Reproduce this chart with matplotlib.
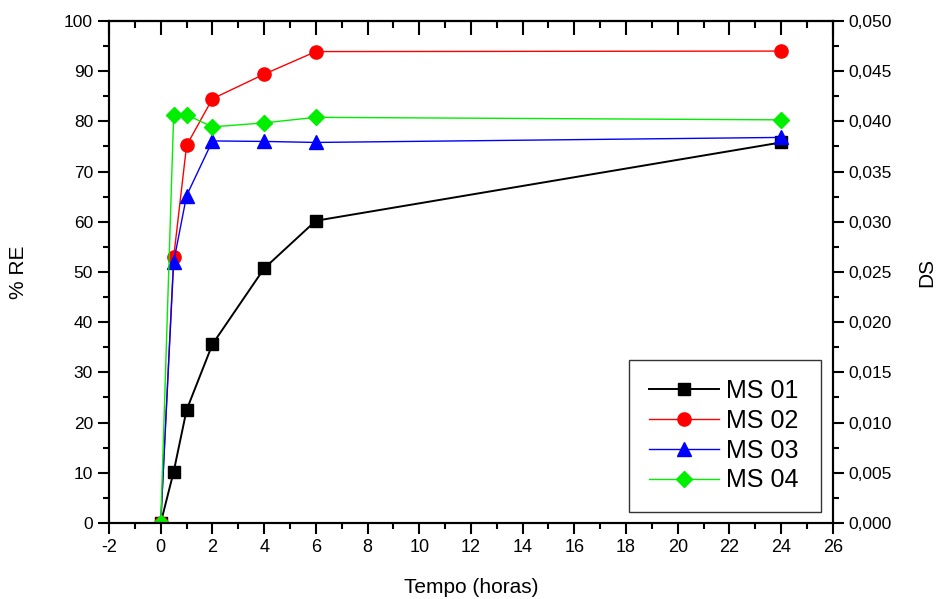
import matplotlib
matplotlib.use("Agg")
import matplotlib.pyplot as plt
from matplotlib.ticker import MultipleLocator, FuncFormatter

plt.rcParams['font.family'] = ['Liberation Sans', 'DejaVu Sans']
plt.rcParams['axes.unicode_minus'] = False

# dados
tempo = [0, 0.5, 1, 2, 4, 6, 24]
ms01 = [0, 10.2, 22.5, 35.6, 50.7, 60.2, 75.8]
ms02 = [0, 52.9, 75.2, 84.5, 89.4, 93.9, 94.0]
ms03 = [0, 52.0, 65.2, 76.1, 76.0, 75.8, 76.8]
ms04 = [0, 81.2, 81.3, 78.9, 79.7, 80.8, 80.3]
nomes = ["MS 01", "MS 02", "MS 03", "MS 04"]

fig = plt.figure(figsize=(9.4, 5.99), dpi=100)
ax = fig.add_axes([0.116, 0.127, 0.770, 0.838])

ax.plot(tempo, ms01, color="black", marker="s", ms=9, lw=1.4, label=nomes[0])
ax.plot(tempo, ms02, color="red", marker="o", ms=9.5, lw=1.0, label=nomes[1])
ax.plot(tempo, ms03, color="blue", marker="^", ms=10, lw=1.0, label=nomes[2])
ax.plot(tempo, ms04, color="#00ee00", marker="D", ms=8.5, lw=1.0, label=nomes[3])

ax.set_xlim(-2, 26)
ax.set_ylim(0, 100)
ax.xaxis.set_major_locator(MultipleLocator(2))
ax.xaxis.set_minor_locator(MultipleLocator(1))
ax.yaxis.set_major_locator(MultipleLocator(10))
ax.yaxis.set_minor_locator(MultipleLocator(5))

ax.tick_params(axis='x', which='both', direction='out', top=False, labelsize=13)
ax.tick_params(axis='x', which='major', length=8, width=1.5)
ax.tick_params(axis='x', which='minor', length=4, width=1.5)
ax.tick_params(axis='y', which='major', direction='out', length=8, width=1.5, labelsize=12.5)
ax.tick_params(axis='y', which='minor', direction='out', length=4, width=1.5)

# eixo superior com ticks para dentro
top = ax.secondary_xaxis('top')
top.xaxis.set_major_locator(MultipleLocator(2))
top.xaxis.set_minor_locator(MultipleLocator(1))
top.tick_params(which='major', direction='in', length=10, width=1.5, labeltop=False)
top.tick_params(which='minor', direction='in', length=5, width=1.5)

ax2 = ax.twinx()
ax2.set_ylim(0, 0.05)
ax2.yaxis.set_major_locator(MultipleLocator(0.005))
ax2.yaxis.set_minor_locator(MultipleLocator(0.0025))
ax2.yaxis.set_major_formatter(FuncFormatter(lambda v, p: f"{v:.3f}".replace(".", ",")))
ax2.tick_params(which='major', direction='out', length=8, width=1.5, labelsize=12.5)
ax2.tick_params(which='minor', direction='out', length=4, width=1.5)
ax2.set_ylabel("DS", fontsize=15, labelpad=18)

for a in (ax, ax2):
    for s in a.spines.values():
        s.set_linewidth(1.5)
top.spines['top'].set_linewidth(1.5)

ax.set_xlabel("Tempo (horas)", fontsize=15, labelpad=16)
ax.set_ylabel("% RE", fontsize=15, labelpad=26)

leg = ax.legend(loc='lower left', bbox_to_anchor=(0.719, 0.022, 0.265, 0.305), mode='expand',
                fontsize=18, frameon=True, fancybox=False, edgecolor='black',
                handlelength=2.8, handletextpad=0.3, labelspacing=0.23, borderpad=0.78,
                borderaxespad=0)
leg.get_frame().set_linewidth(1.0)

fig.savefig("out.png", dpi=100)
